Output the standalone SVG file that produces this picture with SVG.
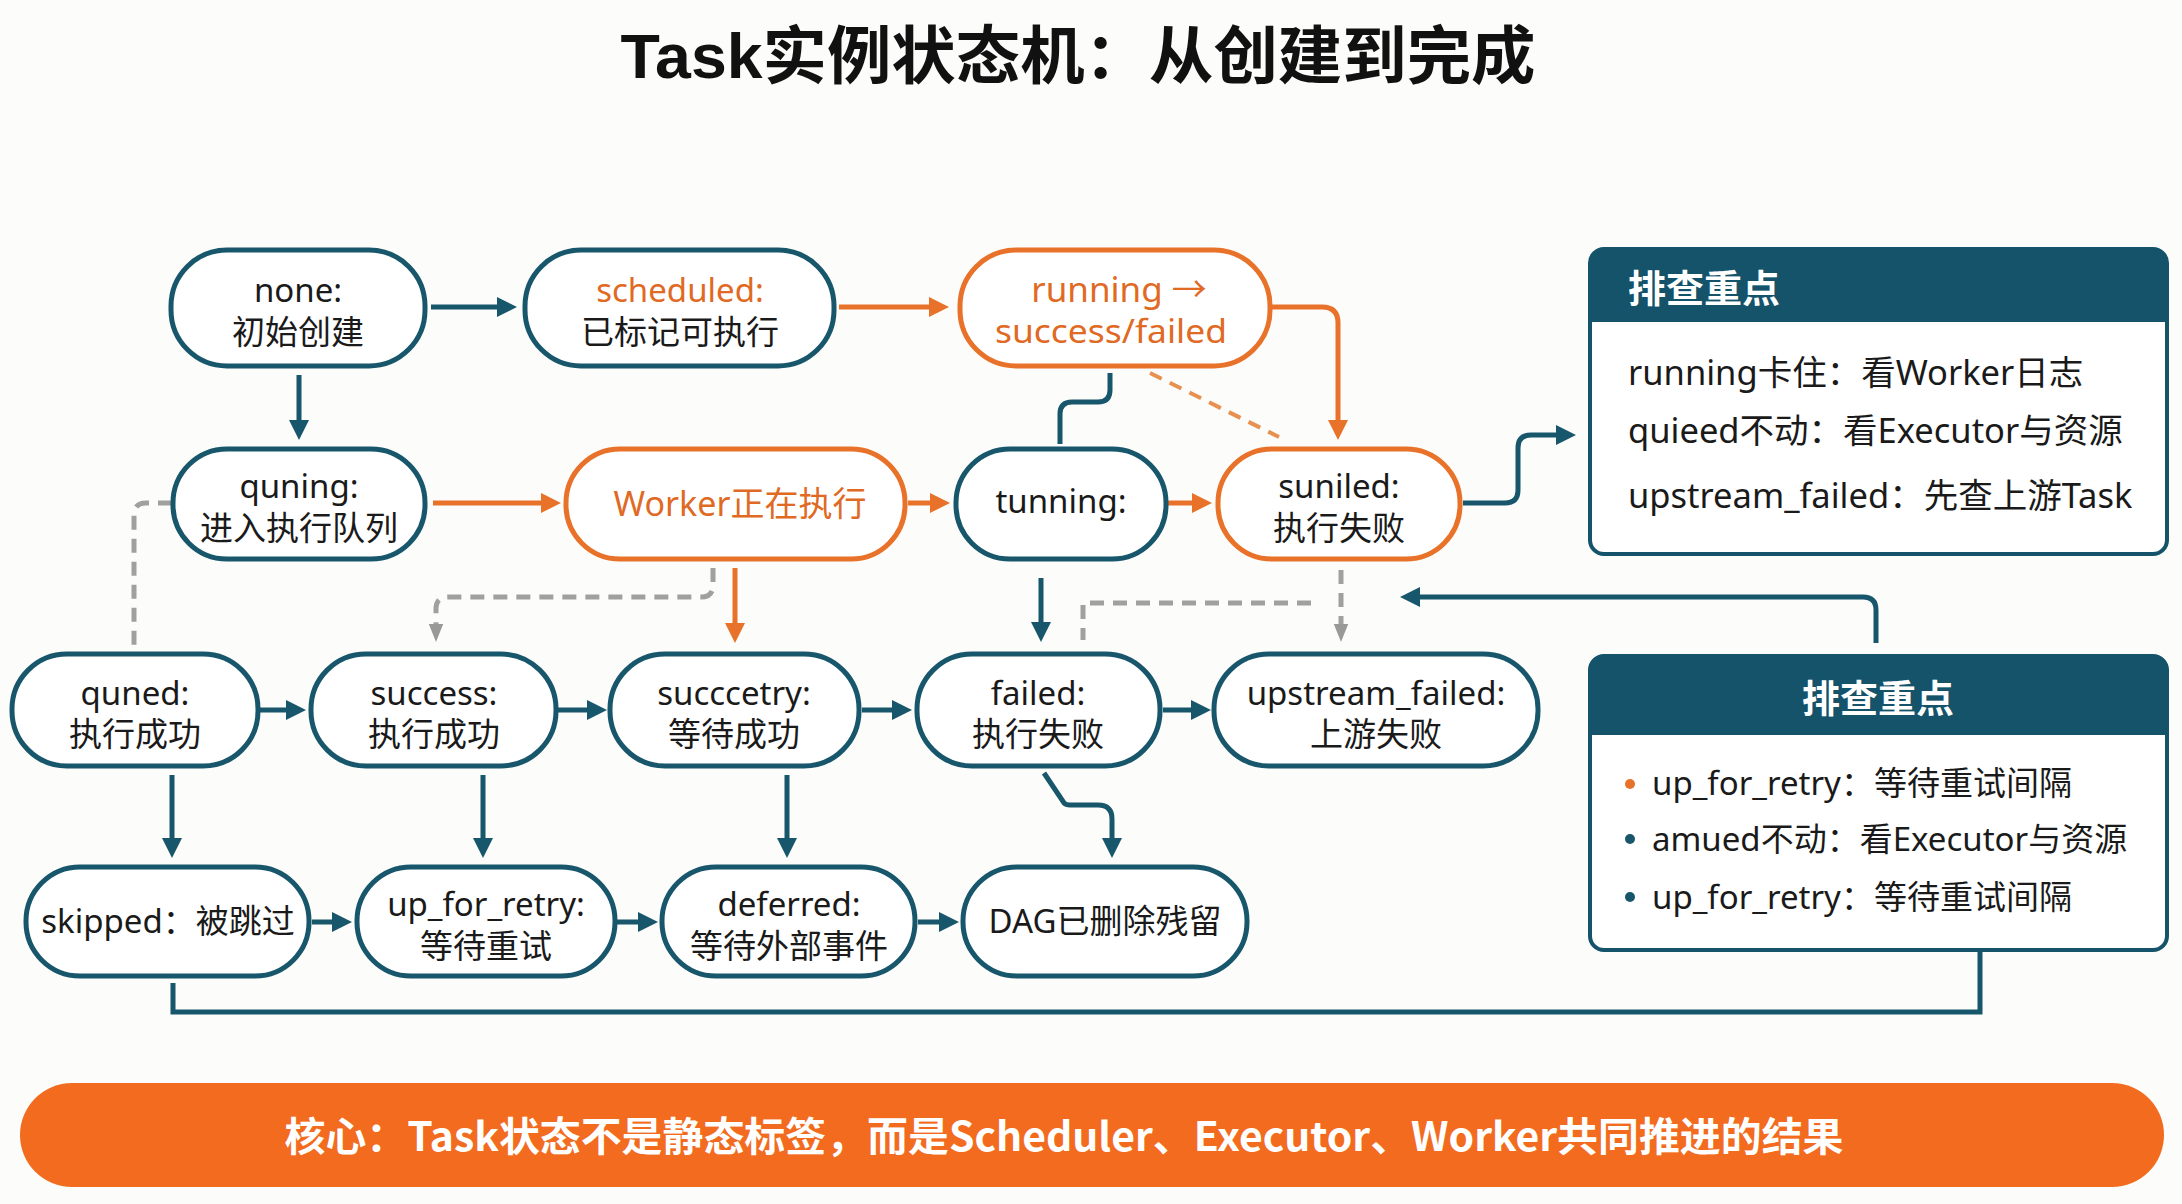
<svg xmlns="http://www.w3.org/2000/svg" width="2182" height="1204" viewBox="0 0 2182 1204">
<style>
.bg{fill:#fcfcfa}
.nt{fill:#fff;stroke:#17566b;stroke-width:5}
.no{fill:#fff;stroke:#e8722a;stroke-width:5}
.t{font-family:"Noto Sans","Noto Sans CJK SC",sans-serif;font-size:33px;fill:#1a1a1a;text-anchor:middle}
.to{fill:#e06a24}
.bt{font-family:"Noto Sans","Noto Sans CJK SC",sans-serif;font-size:34.5px;fill:#1a1a1a}
.b2{font-size:33px}
.hd{font-family:"Noto Sans CJK SC","Noto Sans",sans-serif;font-size:38px;font-weight:700;fill:#fff}
.ct{fill:none;stroke:#17566b;stroke-width:5}
.co{fill:none;stroke:#e8722a;stroke-width:5}
.cg{fill:none;stroke:#a0a0a0;stroke-width:5;stroke-dasharray:14 9}
.cod{fill:none;stroke:#e8904f;stroke-width:4;stroke-dasharray:13 9}
</style>
<defs>
<marker id="at" viewBox="0 0 10 10" refX="5" refY="5" markerWidth="20" markerHeight="20" markerUnits="userSpaceOnUse" orient="auto"><path d="M0,0 L10,5 L0,10 z" fill="#17566b"/></marker>
<marker id="ao" viewBox="0 0 10 10" refX="5" refY="5" markerWidth="20" markerHeight="20" markerUnits="userSpaceOnUse" orient="auto"><path d="M0,0 L10,5 L0,10 z" fill="#e8722a"/></marker>
<marker id="ag" viewBox="0 0 10 10" refX="5" refY="5" markerWidth="20" markerHeight="18" markerUnits="userSpaceOnUse" orient="auto"><path d="M0,1 L10,5 L0,9 z" fill="#999"/></marker>
</defs>
<rect class="bg" x="0" y="0" width="2182" height="1204"/>

<text x="1078" y="78" font-family="'Liberation Sans','Noto Sans CJK SC',sans-serif" font-size="63" font-weight="700" fill="#111" text-anchor="middle" textLength="915" lengthAdjust="spacingAndGlyphs">Task实例状态机：从创建到完成</text>

<g id="connectors">
<path class="ct" d="M431,307 H507" marker-end="url(#at)"/>
<path class="co" d="M839,307 H939" marker-end="url(#ao)"/>
<path class="co" d="M1272,307 H1322 Q1338,307 1338,323 V430" marker-end="url(#ao)"/>
<path class="ct" d="M1110,373 V390 Q1110,402 1098,402 H1072 Q1060,402 1060,414 V444"/>
<path class="cod" d="M1150,373 L1279,437"/>
<path class="ct" d="M299,375 V430" marker-end="url(#at)"/>
<path class="co" d="M433,503 H551" marker-end="url(#ao)"/>
<path class="co" d="M908,503 H940" marker-end="url(#ao)"/>
<path class="co" d="M1168,503 H1202" marker-end="url(#ao)"/>
<path class="ct" d="M1463,503 H1505 Q1518,503 1518,490 V448 Q1518,435 1531,435 H1566" marker-end="url(#at)"/>
<path class="cg" d="M172,503 H146 Q134,503 134,515 V648" stroke-width="4"/>
<path class="cg" d="M713,568 V585 Q713,597 701,597 H448 Q436,597 436,609 V633" stroke-width="4" marker-end="url(#ag)"/>
<path class="co" d="M735,568 V633" stroke-width="4" marker-end="url(#ao)"/>
<path class="ct" d="M1041,578 V632" marker-end="url(#at)"/>
<path class="cg" d="M1341,570 V633" stroke-width="3" marker-end="url(#ag)"/>
<path class="cg" d="M1311,603 H1083 V640" stroke="#b4b4b4" stroke-width="4"/>
<path class="ct" d="M1876,643 V610 Q1876,597 1863,597 H1410" marker-end="url(#at)"/>
<path class="ct" d="M260,710 H296" marker-end="url(#at)"/>
<path class="ct" d="M558,710 H597" marker-end="url(#at)"/>
<path class="ct" d="M862,710 H902" marker-end="url(#at)"/>
<path class="ct" d="M1163,710 H1201" marker-end="url(#at)"/>
<path class="ct" d="M172,775 V848" marker-end="url(#at)"/>
<path class="ct" d="M483,775 V848" marker-end="url(#at)"/>
<path class="ct" d="M787,775 V848" marker-end="url(#at)"/>
<path class="ct" d="M1044,773 L1064,803 Q1066,805 1070,805 H1098 Q1112,805 1112,819 V848" marker-end="url(#at)"/>
<path class="ct" d="M312,922 H342" marker-end="url(#at)"/>
<path class="ct" d="M617,922 H648" marker-end="url(#at)"/>
<path class="ct" d="M918,922 H949" marker-end="url(#at)"/>
<path class="ct" d="M173,983 V1012 H1980 V950"/>
</g>

<g id="n-none"><rect class="nt" x="171" y="250" width="254" height="116" rx="56"/><text class="t" x="298" y="302">none:</text><text class="t" x="298" y="344">初始创建</text></g>
<g id="n-scheduled"><rect class="nt" x="525" y="250" width="309" height="116" rx="56"/><text class="t to" x="680" y="302">scheduled:</text><text class="t" x="680" y="344">已标记可执行</text></g>
<g id="n-running"><rect class="no" x="960" y="250" width="310" height="116" rx="56"/><text class="t to" x="1119" y="302" style="font-size:35px">running →</text><text class="t to" x="1111" y="343" textLength="232" lengthAdjust="spacingAndGlyphs">success/failed</text></g>
<g id="n-quning"><rect class="nt" x="173" y="449" width="252" height="110" rx="54"/><text class="t" x="299" y="498">quning:</text><text class="t" x="299" y="540">进入执行队列</text></g>
<g id="n-worker"><rect class="no" x="566" y="449" width="339" height="110" rx="54"/><text class="t to" x="740" y="516" style="font-size:34px">Worker正在执行</text></g>
<g id="n-tunning"><rect class="nt" x="956" y="449" width="210" height="110" rx="54"/><text class="t" x="1061" y="513">tunning:</text></g>
<g id="n-suniled"><rect class="no" x="1218" y="449" width="242" height="110" rx="54"/><text class="t" x="1339" y="498">suniled:</text><text class="t" x="1339" y="540">执行失败</text></g>

<g id="n-quned"><rect class="nt" x="12" y="654" width="246" height="112" rx="55"/><text class="t" x="135" y="705">quned:</text><text class="t" x="135" y="746">执行成功</text></g>
<g id="n-success"><rect class="nt" x="311" y="654" width="245" height="112" rx="55"/><text class="t" x="434" y="705">success:</text><text class="t" x="434" y="746">执行成功</text></g>
<g id="n-succcetry"><rect class="nt" x="610" y="654" width="249" height="112" rx="55"/><text class="t" x="734" y="705">succcetry:</text><text class="t" x="734" y="746">等待成功</text></g>
<g id="n-failed"><rect class="nt" x="917" y="654" width="243" height="112" rx="55"/><text class="t" x="1038" y="705">failed:</text><text class="t" x="1038" y="746">执行失败</text></g>
<g id="n-upstream"><rect class="nt" x="1214" y="654" width="324" height="112" rx="55"/><text class="t" x="1376" y="705">upstream_failed:</text><text class="t" x="1376" y="746">上游失败</text></g>

<g id="n-skipped"><rect class="nt" x="26" y="867" width="283" height="109" rx="54"/><text class="t" x="168" y="933">skipped：被跳过</text></g>
<g id="n-upforretry"><rect class="nt" x="357" y="867" width="258" height="109" rx="54"/><text class="t" x="486" y="916">up_for_retry:</text><text class="t" x="486" y="958">等待重试</text></g>
<g id="n-deferred"><rect class="nt" x="662" y="867" width="253" height="109" rx="54"/><text class="t" x="789" y="916">deferred:</text><text class="t" x="789" y="958">等待外部事件</text></g>
<g id="n-dag"><rect class="nt" x="963" y="867" width="284" height="109" rx="54"/><text class="t" x="1105" y="933">DAG已删除残留</text></g>

<g id="box1">
<rect x="1590" y="249" width="577" height="305" rx="14" fill="#fff"/>
<path d="M1590,322 V263 Q1590,249 1604,249 H2153 Q2167,249 2167,263 V322 Z" fill="#14536a"/>
<rect x="1590" y="249" width="577" height="305" rx="14" fill="none" stroke="#14536a" stroke-width="4"/>
<text class="hd" x="1628" y="302">排查重点</text>
<text class="bt" x="1628" y="385">running卡住：看Worker日志</text>
<text class="bt" x="1628" y="443">quieed不动：看Executor与资源</text>
<text class="bt" x="1628" y="508">upstream_failed：先查上游Task</text>
</g>

<g id="box2">
<rect x="1590" y="656" width="577" height="294" rx="14" fill="#fff"/>
<path d="M1590,735 V670 Q1590,656 1604,656 H2153 Q2167,656 2167,670 V735 Z" fill="#14536a"/>
<rect x="1590" y="656" width="577" height="294" rx="14" fill="none" stroke="#14536a" stroke-width="4"/>
<text class="hd" x="1878" y="712" text-anchor="middle">排查重点</text>
<circle cx="1630" cy="784" r="5" fill="#e8722a"/>
<circle cx="1630" cy="839" r="5" fill="#17566b"/>
<circle cx="1630" cy="897" r="5" fill="#17566b"/>
<text class="bt b2" x="1652" y="795">up_for_retry：等待重试间隔</text>
<text class="bt b2" x="1652" y="851">amued不动：看Executor与资源</text>
<text class="bt b2" x="1652" y="909">up_for_retry：等待重试间隔</text>
</g>

<g id="banner">
<rect x="20" y="1083" width="2144" height="104" rx="52" fill="#f26b1f"/>
<text x="1064" y="1151" font-family="'Noto Sans CJK SC','Noto Sans',sans-serif" font-size="40" font-weight="700" fill="#fff" text-anchor="middle" textLength="1559" lengthAdjust="spacingAndGlyphs">核心：Task状态不是静态标签，而是Scheduler、Executor、Worker共同推进的结果</text>
</g>
</svg>
